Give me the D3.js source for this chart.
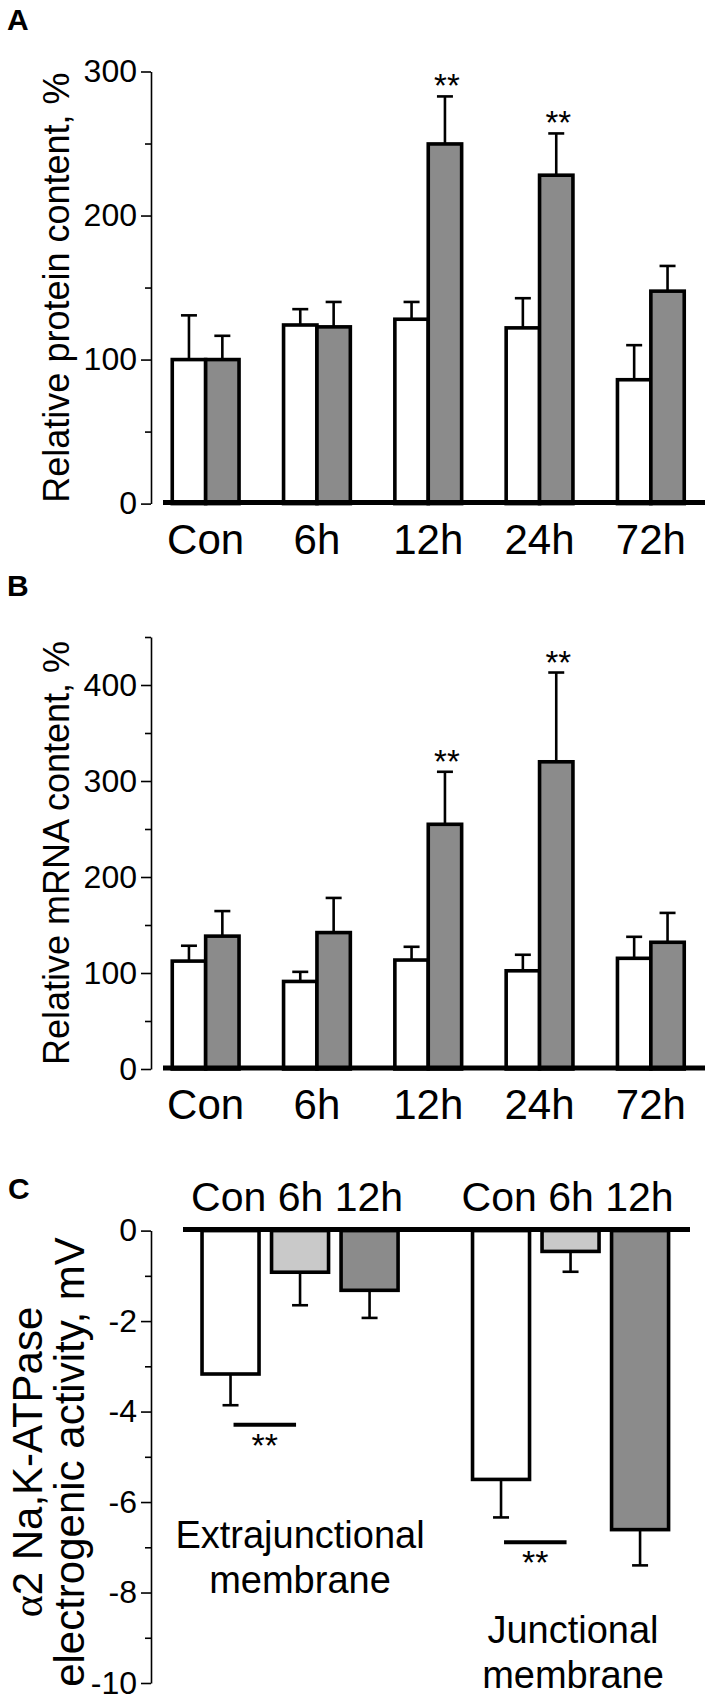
<!DOCTYPE html>
<html><head><meta charset="utf-8">
<script src="https://cdn.jsdelivr.net/npm/d3@7"></script>
<style>
body{margin:0;background:#fff}
svg{display:block}
text{font-family:"Liberation Sans",Arial,Helvetica,sans-serif;fill:#000}
</style>
</head><body>
<svg id="chart" width="709" height="1698"></svg>
<script>
// ---------------- data ----------------
const timeCategories = ["Con", "6h", "12h", "24h", "72h"];
const seriesKeys = ["white", "gray"];

// Panel A: relative protein content, %
const proteinWhite    = [100, 124, 128, 122, 86];
const proteinWhiteErr = [30.7, 11, 12, 20.6, 24];
const proteinGray     = [100, 122.7, 249.7, 228, 147.5];
const proteinGrayErr  = [16.5, 17.3, 33, 29, 17.5];
const proteinSignif   = ["12h", "24h"];
const proteinTicks    = [0, 100, 200, 300];
const proteinMinor    = [50, 150, 250];

// Panel B: relative mRNA content, %
const mrnaWhite    = [112.4, 91.2, 113.5, 102.3, 115.3];
const mrnaWhiteErr = [16, 10, 13.8, 16.7, 22.4];
const mrnaGray     = [138.4, 142.1, 254.9, 320, 132];
const mrnaGrayErr  = [26.1, 36.1, 54.7, 93, 30.6];
const mrnaSignif   = ["12h", "24h"];
const mrnaTicks    = [0, 100, 200, 300, 400];
const mrnaMinor    = [50, 150, 250, 350, 450];

// Panel C: alpha2 Na,K-ATPase electrogenic activity, mV
const membranes      = ["Extrajunctional", "Junctional"];
const membraneLabels = [["Extrajunctional", "membrane"], ["Junctional", "membrane"]];
const cConditions    = ["Con", "6h", "12h"];
const extraValues    = [-3.17, -0.92, -1.32];
const extraErr       = [0.69, 0.73, 0.61];
const junctValues    = [-5.5, -0.46, -6.61];
const junctErr       = [0.84, 0.45, 0.79];
const cSignifLevel   = [-4.29, -6.89];   // level of the "**" bracket (Con vs 6h)
const cTicks         = [0, -2, -4, -6, -8, -10];
const cMinor         = [-1, -3, -5, -7, -9];

// ---------------- styles ----------------
const FILL = {white: "#ffffff", gray: "#8b8b8b", light: "#c9c9c9"};
const FONT = '"Liberation Sans",Arial,Helvetica,sans-serif';

const svg = d3.select("#chart");
svg.append("rect").attr("width", 709).attr("height", 1698).attr("fill", "#fff");

function yAxis(g, y, x, major, minor, fs) {
  const a = g.append("g").attr("transform", `translate(${x},0)`)
    .call(d3.axisLeft(y).tickValues(major).tickSize(10).tickSizeOuter(0).tickPadding(4).tickFormat(d => String(d)));
  a.attr("font-family", FONT).attr("font-size", fs);
  a.select(".domain").attr("stroke", "#000").attr("stroke-width", 1.6);
  a.selectAll(".tick line").attr("stroke", "#000").attr("stroke-width", 1.6);
  a.selectAll(".tick text").attr("fill", "#000");
  const m = g.append("g").attr("transform", `translate(${x},0)`)
    .call(d3.axisLeft(y).tickValues(minor).tickSize(6).tickSizeOuter(0).tickFormat(""));
  m.select(".domain").remove();
  m.selectAll(".tick line").attr("stroke", "#000").attr("stroke-width", 1.6);
}

function yLabel(g, lines, x0, yc, fs, lineGap) {
  lines.forEach((ln, i) => {
    const t = g.append("text")
      .attr("transform", `translate(${x0 + i * lineGap},${yc}) rotate(-90)`)
      .attr("text-anchor", "middle").attr("font-size", fs);
    ln.forEach(part => {
      const s = t.append("tspan").text(part.t);
      if (part.serif) s.attr("font-family", '"Liberation Serif","Times New Roman",serif');
    });
  });
}

// ---------------- panels A & B ----------------
function timePanel(opt) {
  const g = svg.append("g");
  const y = d3.scaleLinear().domain(opt.domain).range(opt.range);
  const x = d3.scaleBand().domain(timeCategories).range([150, 706.5]).paddingInner(0.4).paddingOuter(0.2);
  const xs = d3.scaleBand().domain(seriesKeys).range([0, x.bandwidth()]);

  g.append("text").attr("x", 7).attr("y", opt.letterY).attr("font-size", 30).attr("font-weight", "bold").text(opt.letter);

  yAxis(g, y, 151, opt.ticks, opt.minor, 32);
  yLabel(g, [[{t: opt.ylabel}]], 69, (opt.range[0] + opt.range[1]) / 2, 36, 0);

  const rows = [];
  timeCategories.forEach((c, i) => {
    rows.push({cat: c, key: "white", v: opt.white[i], e: opt.whiteErr[i]});
    rows.push({cat: c, key: "gray", v: opt.gray[i], e: opt.grayErr[i]});
  });

  const eg = g.append("g").attr("stroke", "#000").attr("stroke-width", 2.6).attr("fill", "none");
  rows.forEach(r => {
    const cx = x(r.cat) + xs(r.key) + xs.bandwidth() / 2;
    eg.append("line").attr("x1", cx).attr("x2", cx).attr("y1", y(r.v)).attr("y2", y(r.v + r.e));
    eg.append("line").attr("x1", cx - 8).attr("x2", cx + 8).attr("y1", y(r.v + r.e)).attr("y2", y(r.v + r.e));
  });

  g.append("g").selectAll("rect").data(rows).join("rect")
    .attr("x", r => x(r.cat) + xs(r.key))
    .attr("width", xs.bandwidth())
    .attr("y", r => y(r.v))
    .attr("height", r => y(0) - y(r.v))
    .attr("fill", r => FILL[r.key])
    .attr("stroke", "#000").attr("stroke-width", 3.6);

  g.append("line").attr("x1", 163).attr("x2", 705).attr("y1", y(0) - 1).attr("y2", y(0) - 1)
    .attr("stroke", "#000").attr("stroke-width", 5);

  rows.filter(r => r.key === "gray" && opt.signif.includes(r.cat)).forEach(r => {
    g.append("text").attr("x", x(r.cat) + xs(r.key) + xs.bandwidth() / 2 + 2)
      .attr("y", y(r.v + r.e) + 1).attr("text-anchor", "middle").attr("font-size", 33).text("**");
  });

  g.append("g").selectAll("text").data(timeCategories).join("text")
    .attr("x", d => x(d) + x.bandwidth() / 2).attr("y", y(0) + 50)
    .attr("text-anchor", "middle").attr("font-size", 42).text(d => d);
}

timePanel({letter: "A", letterY: 30, domain: [0, 300], range: [503.6, 71.5],
  ticks: proteinTicks, minor: proteinMinor, ylabel: "Relative protein content, %",
  white: proteinWhite, whiteErr: proteinWhiteErr, gray: proteinGray, grayErr: proteinGrayErr, signif: proteinSignif});

timePanel({letter: "B", letterY: 596, domain: [0, 450], range: [1069, 637],
  ticks: mrnaTicks, minor: mrnaMinor, ylabel: "Relative mRNA content, %",
  white: mrnaWhite, whiteErr: mrnaWhiteErr, gray: mrnaGray, grayErr: mrnaGrayErr, signif: mrnaSignif});

// ---------------- panel C ----------------
(function () {
  const g = svg.append("g");
  const y = d3.scaleLinear().domain([-10, 0]).range([1683, 1230.6]);
  const x = d3.scaleBand().domain(membranes).range([164.8, 705.8]).paddingInner(0.229).paddingOuter(0.1145);
  const xs = d3.scaleBand().domain(cConditions).range([0, x.bandwidth()]).paddingInner(0.18).paddingOuter(0.09);
  const cFill = {"Con": FILL.white, "6h": FILL.light, "12h": FILL.gray};

  g.append("text").attr("x", 8).attr("y", 1199).attr("font-size", 30).attr("font-weight", "bold").text("C");

  yAxis(g, y, 151, cTicks, cMinor, 32);
  yLabel(g, [[{t: "α", serif: true}, {t: "2 Na,K-ATPase"}], [{t: "electrogenic activity, mV"}]], 42, 1462, 42, 42);

  const vals = [extraValues, junctValues], errs = [extraErr, junctErr];
  const rows = [];
  membranes.forEach((m, i) => cConditions.forEach((c, j) => rows.push({m, c, v: vals[i][j], e: errs[i][j]})));
  const cx = r => x(r.m) + xs(r.c) + xs.bandwidth() / 2;

  const eg = g.append("g").attr("stroke", "#000").attr("stroke-width", 2.6);
  rows.forEach(r => {
    eg.append("line").attr("x1", cx(r)).attr("x2", cx(r)).attr("y1", y(r.v)).attr("y2", y(r.v - r.e));
    eg.append("line").attr("x1", cx(r) - 8).attr("x2", cx(r) + 8).attr("y1", y(r.v - r.e)).attr("y2", y(r.v - r.e));
  });

  g.append("g").selectAll("rect").data(rows).join("rect")
    .attr("x", r => x(r.m) + xs(r.c)).attr("width", xs.bandwidth())
    .attr("y", y(0)).attr("height", r => y(r.v) - y(0))
    .attr("fill", r => cFill[r.c]).attr("stroke", "#000").attr("stroke-width", 3.6);

  g.append("line").attr("x1", 183).attr("x2", 690).attr("y1", y(0) - 1).attr("y2", y(0) - 1)
    .attr("stroke", "#000").attr("stroke-width", 5);

  membranes.forEach(m => {
    g.append("text").attr("x", x(m) + x.bandwidth() / 2 - 3).attr("y", 1211)
      .attr("text-anchor", "middle").attr("font-size", 41).text(cConditions.join(" "));
  });

  membranes.forEach((m, i) => {
    const x1 = x(m) + xs("Con") + xs.bandwidth() / 2 + 3;
    const x2 = x(m) + xs("6h") + xs.bandwidth() / 2 - 4;
    g.append("line").attr("x1", x1).attr("x2", x2).attr("y1", y(cSignifLevel[i])).attr("y2", y(cSignifLevel[i]))
      .attr("stroke", "#000").attr("stroke-width", 4);
    g.append("text").attr("x", (x1 + x2) / 2).attr("y", y(cSignifLevel[i]) + 32)
      .attr("text-anchor", "middle").attr("font-size", 34).text("**");
  });

  const labelPos = [{cx: 300, y0: 1548}, {cx: 573, y0: 1643}];
  membraneLabels.forEach((lines, i) => {
    lines.forEach((ln, k) => {
      g.append("text").attr("x", labelPos[i].cx).attr("y", labelPos[i].y0 + k * 45)
        .attr("text-anchor", "middle").attr("font-size", 38).text(ln);
    });
  });
})();
</script>
</body></html>
